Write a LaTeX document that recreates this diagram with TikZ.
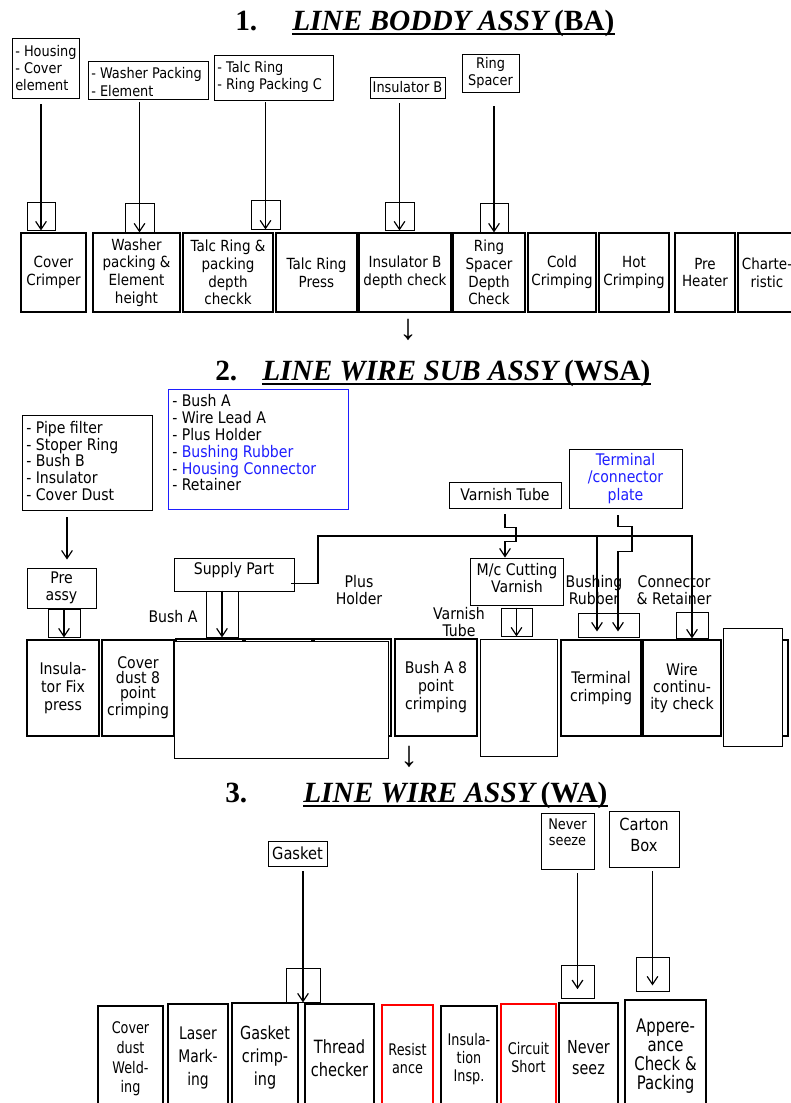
\documentclass[tikz,border=0pt]{standalone}
\usepackage{fontspec}
\setmainfont{DejaVu Sans}[FakeStretch=0.88]
\newfontfamily\nar{DejaVu Sans}[FakeStretch=0.8]
\newfontfamily\tnr{Liberation Serif}
\usetikzlibrary{arrows.meta}
\definecolor{pblue}{RGB}{30,30,255}
\definecolor{pred}{RGB}{255,0,0}
\newcommand\fa{\fontsize{11}{12.8}\selectfont}
\newcommand\fb{\fontsize{11.5}{13.3}\selectfont}
\newcommand\fc{\fontsize{12}{12.6}\selectfont}
\newcommand\fd{\fontsize{12}{13}\selectfont}
% box from pixel corner (x1,y1) to (x2,y2)
\newcommand\bx[6][]{\node[#2, minimum width={(#5-#3)*0.75pt}, minimum height={(#6-#4)*0.75pt}, #1] at ({(#3+#5)/2},{(#4+#6)/2})}
\tikzset{
 ibox/.style={draw, line width=0.7pt, inner sep=0pt, align=center},
 pbox/.style={draw, line width=1.6pt, inner sep=0pt, align=center},
 sbox/.style={draw, line width=0.7pt, inner sep=0pt},
 wbox/.style={draw, line width=0.7pt, fill=white, inner sep=0pt},
 arr/.style={line width=0.9pt, -{Straight Barb[length=6pt,width=8pt]}},
 lbl/.style={inner sep=0pt, align=center},
 lst/.style={inner sep=0pt, align=left, anchor=west},
 ttl/.style={font=\tnr\bfseries\fontsize{22}{24}\selectfont, inner sep=0pt, anchor=base west},
 uline/.style={line width=1.8pt},
 darr/.style={font=\tnr\bfseries\fontsize{27}{28}\selectfont, inner sep=0pt},
}
\begin{document}
\begin{tikzpicture}[x=0.75pt,y=-0.75pt]
\useasboundingbox (0,0) rectangle (791,1103);
\clip (0,0) rectangle (791,1103);

% ---------------- Section 1 ----------------
\node[ttl] (t1n) at (235,30) {1.};
\node[ttl] (t1a) at (292,30) {\itshape LINE BODDY ASSY};
\node[ttl, xshift=4pt] (t1b) at (t1a.base east) {(BA)};
\draw[uline] ([yshift=-2.8pt]t1a.base west) -- ([yshift=-2.8pt]t1b.base east);

\bx{ibox}{12}{38}{79}{98} (i1) {};
\node[lst, font=\fa] (i1t) at (15,68) {- Housing\\- Cover\\element};
\bx{ibox}{88}{61}{208}{99} (i2) {};
\node[lst, font=\fa] (i2t) at (91,82) {- Washer Packing\\- Element};
\bx{ibox}{214}{55}{333}{100} (i3) {};
\node[lst, font=\fa] (i3t) at (217,77) {- Talc Ring\\- Ring Packing C};
\bx[font=\fa]{ibox}{370}{77}{445}{98} (i4) {Insulator B};
\bx[font=\fa]{ibox}{462}{54}{519}{92} (i5) {Ring\\Spacer};

\bx{sbox}{27}{202}{55}{230} (s1) {};
\bx{sbox}{125}{203}{154}{232} (s2) {};
\bx{sbox}{251}{200}{280}{229} (s3) {};
\bx{sbox}{385}{202}{414}{230} (s4) {};
\bx{sbox}{480}{203}{508}{232} (s5) {};

\draw[arr] (i1.south -| s1.north) ++(0,6) -- (s1.south);
\draw[arr] (i2.south -| s2.north) ++(0,3) -- (s2.south);
\draw[arr] (i3.south -| s3.north) ++(0,2) -- (s3.south);
\draw[arr] (i4.south -| s4.north) ++(0,5) -- (s4.south);
\draw[arr] (i5.south -| s5.north) ++(0,14) -- (s5.south);

\bx[font=\fb]{pbox}{21}{233}{86}{312} (p1) {Cover\\Crimper};
\bx[font=\fb]{pbox}{93}{233}{180}{312} (p2) {Washer\\packing \&\\Element\\height};
\bx[font=\fb]{pbox}{183}{233}{273}{312} (p3) {Talc Ring \&\\packing\\depth\\checkk};
\bx[font=\fb]{pbox}{276}{233}{357}{312} (p4) {Talc Ring\\Press};
\bx[font=\fb]{pbox}{359}{233}{451}{312} (p5) {Insulator B\\depth check};
\bx[font=\fb]{pbox}{453}{233}{525}{312} (p6) {Ring\\Spacer\\Depth\\Check};
\bx[font=\fb]{pbox}{528}{233}{596}{312} (p7) {Cold\\Crimping};
\bx[font=\fb]{pbox}{599}{233}{669}{312} (p8) {Hot\\Crimping};
\bx[font=\fb]{pbox}{675}{233}{735}{312} (p9) {Pre\\Heater};
\bx[font=\fb]{pbox}{738}{233}{796}{312} (p10) {Charte-\\ristic};

\node[darr] (d1) at (408,330) {↓};

% ---------------- Section 2 ----------------
\node[ttl] (t2n) at (215,380) {2.};
\node[ttl] (t2a) at (262,380) {\itshape LINE WIRE SUB ASSY};
\node[ttl, xshift=4pt] (t2b) at (t2a.base east) {(WSA)};
\draw[uline] ([yshift=-2.8pt]t2a.base west) -- ([yshift=-2.8pt]t2b.base east);

\bx{ibox}{22}{415}{152}{510} (pf) {};
\node[lst, font=\fc] (pft) at (26,461) {- Pipe filter\\- Stoper Ring\\- Bush B\\- Insulator\\- Cover Dust};
\bx[draw=pblue]{ibox}{168}{389}{348}{509} (bl) {};
\node[lst, font=\fc] (blt) at (172,443) {- Bush A\\- Wire Lead A\\- Plus Holder\\- \textcolor{pblue}{Bushing Rubber}\\- \textcolor{pblue}{Housing Connector}\\- Retainer};

\bx[font=\fd]{ibox}{27}{568}{96}{608} (pre) {Pre\\assy};
\bx{sbox}{48}{609}{80}{637} (sp0) {};
\coordinate (c1) at (67,517);
\draw[arr] (c1) -- ([yshift=6pt]pre.north -| c1);
\draw[arr] (sp0.north) -- (sp0.south);

\bx[font=\fontsize{12}{13.5}\selectfont]{pbox}{27}{640}{99}{736} (ifp) {Insula-\\tor Fix\\press};
\bx[font=\fontsize{12}{11.3}\selectfont]{pbox}{102}{640}{174}{736} (cd8) {Cover\\dust 8\\point\\crimping};
\bx{pbox}{176}{639}{243}{736} (h1) {};
\bx{pbox}{245}{639}{312}{736} (h2) {};
\bx{pbox}{314}{639}{391}{736} (h3) {};
\bx{wbox}{174}{641}{388}{758} (wb1) {};

\bx{ibox}{174}{558}{294}{591} (sup) {};
\node[lbl, font=\fd] (supt) at (234,570) {Supply Part};
\bx{sbox}{206}{591}{238}{637} (ssb) {};
\draw[arr] (ssb.north) -- (ssb.south);
\node[lbl, font=\fd] (busha) at (173,617) {Bush A};
\node[lbl, font=\fd] (plush) at (359,590) {Plus\\Holder};

\bx[font=\fd]{ibox}{449}{482}{561}{508} (vt) {Varnish Tube};
\bx{ibox}{470}{558}{563}{605} (mcv) {};
\node[lbl, font=\fd] (mcvt) at (517,578) {M/c Cutting\\Varnish};
\node[lbl, font=\fd] (vtl) at (459,622) {Varnish\\Tube};
\bx{sbox}{501}{608}{532}{636} (vsb) {};
\draw[arr] (vsb.north) -- (vsb.south);

\bx[font=\fontsize{12}{13.5}\selectfont]{pbox}{395}{639}{477}{736} (ba8) {Bush A 8\\point\\crimping};
\bx{wbox}{480}{639}{557}{756} (wb2) {};
\bx[font=\fontsize{12}{13}\selectfont]{pbox}{561}{640}{641}{736} (tc) {Terminal\\crimping};
\bx[font=\fontsize{12}{13}\selectfont]{pbox}{643}{640}{721}{736} (wc) {Wire\\continu-\\ity check};
\bx{pbox}{725}{640}{788}{736} (hr) {};
\bx{wbox}{723}{628}{782}{746} (wb3) {};

\bx[font=\fd, text=pblue]{ibox}{569}{449}{682}{508} (tcp) {Terminal\\/connector\\plate};
\node[lbl, font=\fd] (brl) at (594,590) {Bushing\\Rubber};
\node[lbl, font=\fd] (crl) at (674,590) {Connector\\\& Retainer};
\bx{sbox}{578}{613}{639}{637} (tsb) {};
\bx{sbox}{676}{612}{708}{638} (wsb) {};

\coordinate (k1) at (318,536);
\coordinate (k2) at (597,536);
\draw[arr] ([shift={(-3,-8)}]sup.south east) -| (k1) -| (wsb.south);
\draw[arr] (k2) -- ([yshift=4.5pt]tsb.south -| k2);
\draw[arr] (vt.south) ++(0,6) -- ++(0,13) -- ++(11,0) -- ++(0,14) -- ++(-11,0) -- (mcv.north -| vt.south);
\path ([shift={(-7.5,7)}]tcp.south) coordinate (k3);
\draw[arr] (k3) -- ++(0,11) -- ++(14,0) -- ++(0,25) -- ++(-14,0) -- ([yshift=4.5pt]tsb.south -| k3);

\node[darr] (d2) at (409,757) {↓};

% ---------------- Section 3 ----------------
\node[ttl] (t3n) at (225,802) {3.};
\node[ttl] (t3a) at (303,802) {\itshape LINE WIRE ASSY};
\node[ttl, xshift=4pt] (t3b) at (t3a.base east) {(WA)};
\draw[uline] ([yshift=-2.8pt]t3a.base west) -- ([yshift=-2.8pt]t3b.base east);

\bx[font=\fontsize{12.5}{13}\selectfont]{ibox}{268}{841}{327}{866} (gk) {Gasket};
\bx{ibox}{541}{813}{594}{869} (nv) {};
\node[lbl, font=\fontsize{11}{12}\selectfont] (nvt) at (567.5,832) {Never\\seeze};
\bx{ibox}{609}{811}{679}{867} (ct) {};
\node[lbl, font=\fontsize{12.5}{15.5}\selectfont] (ctt) at (644,835) {Carton\\Box};

\bx{sbox}{286}{968}{320}{1002} (sg) {};
\bx{sbox}{561}{965}{594}{998} (sn) {};
\bx{sbox}{636}{957}{669}{991} (sc) {};
\draw[arr] (gk.south -| sg.north) ++(0,5) -- (sg.south);
\draw[arr] (nv.south -| sn.north) ++(0,4) -- ([yshift=7pt]sn.south);
\draw[arr] (ct.south -| sc.north) ++(0,4) -- ([yshift=4.5pt]sc.south);

\bx[font=\nar\fontsize{12}{14.8}\selectfont]{pbox}{98}{1006}{163}{1112} (q1) {Cover\\dust\\Weld-\\ing};
\bx[font=\nar\fontsize{13}{17.6}\selectfont]{pbox}{168}{1004}{228}{1112} (q2) {Laser\\Mark-\\ing};
\bx[font=\nar\fontsize{13.5}{17.5}\selectfont]{pbox}{232}{1003}{298}{1112} (q3) {Gasket\\crimp-\\ing};
\bx[font=\nar\fontsize{13.7}{17.3}\selectfont]{pbox}{305}{1004}{374}{1112} (q4) {Thread\\checker};
\bx[draw=pred, font=\nar\fontsize{12}{13.5}\selectfont]{pbox}{382}{1005}{433}{1112} (q5) {Resist\\ance};
\bx[font=\nar\fontsize{12}{13.5}\selectfont]{pbox}{441}{1006}{497}{1112} (q6) {Insula-\\tion\\Insp.};
\bx[draw=pred, font=\nar\fontsize{12}{13.5}\selectfont]{pbox}{501}{1004}{556}{1112} (q7) {Circuit\\Short};
\bx[font=\nar\fontsize{13.4}{15.8}\selectfont]{pbox}{559}{1003}{618}{1112} (q8) {Never\\seez};
\bx[font=\nar\fontsize{14}{14.3}\selectfont]{pbox}{625}{1000}{706}{1112} (q9) {Appere-\\ance\\Check \&\\Packing};
\end{tikzpicture}
\end{document}
